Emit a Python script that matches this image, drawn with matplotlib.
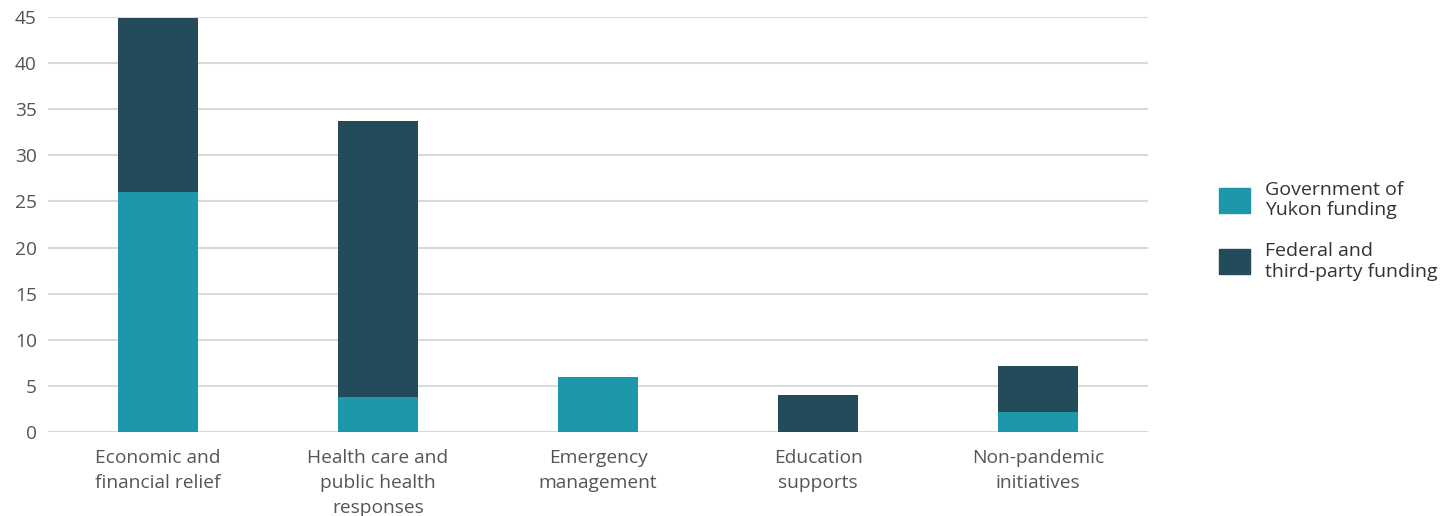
import matplotlib.pyplot as plt
from matplotlib.patches import Patch

categories = ['Economic and\nfinancial relief', 'Health care and\npublic health\nresponses',
              'Emergency\nmanagement', 'Education\nsupports', 'Non-pandemic\ninitiatives']
yukon = [26.0, 3.8, 5.9, 0.0, 2.2]
federal = [18.9, 29.9, 0.0, 4.0, 5.0]
series_names = ['Government of\nYukon funding', 'Federal and\nthird-party funding']

teal = '#1f97aa'
dark = '#244b5a'
txt = '#555555'

plt.rcParams['font.family'] = ['Open Sans', 'DejaVu Sans']

fig = plt.figure(figsize=(14.55, 5.16), dpi=100)
ax = fig.add_axes([0.033, 0.163, 0.756, 0.804])

x = range(len(categories))
ax.bar(x, yukon, width=0.364, color=teal, zorder=3)
ax.bar(x, federal, width=0.364, bottom=yukon, color=dark, zorder=3)

ax.set_xlim(-0.5, 4.5)
ax.set_ylim(0, 45)
ax.set_yticks(range(0, 46, 5))
ax.set_xticks(list(x))
ax.set_xticklabels(categories, fontsize=13.8, color=txt, linespacing=1.5)
ax.tick_params(axis='y', labelsize=13.8, labelcolor=txt, length=0, pad=8)
ax.tick_params(axis='x', length=0, pad=12)
ax.grid(axis='y', color='#d9d9d9', lw=1.5, zorder=0)
for s in ax.spines.values():
    s.set_visible(False)

handles = [Patch(color=teal), Patch(color=dark)]
fig.legend(handles, series_names, loc='center left', bbox_to_anchor=(0.826, 0.553),
           frameon=False, fontsize=14, labelcolor='#333333', handlelength=1.6,
           handleheight=1.6, handletextpad=0.75, labelspacing=1.15)

fig.savefig('out.png', dpi=100)
